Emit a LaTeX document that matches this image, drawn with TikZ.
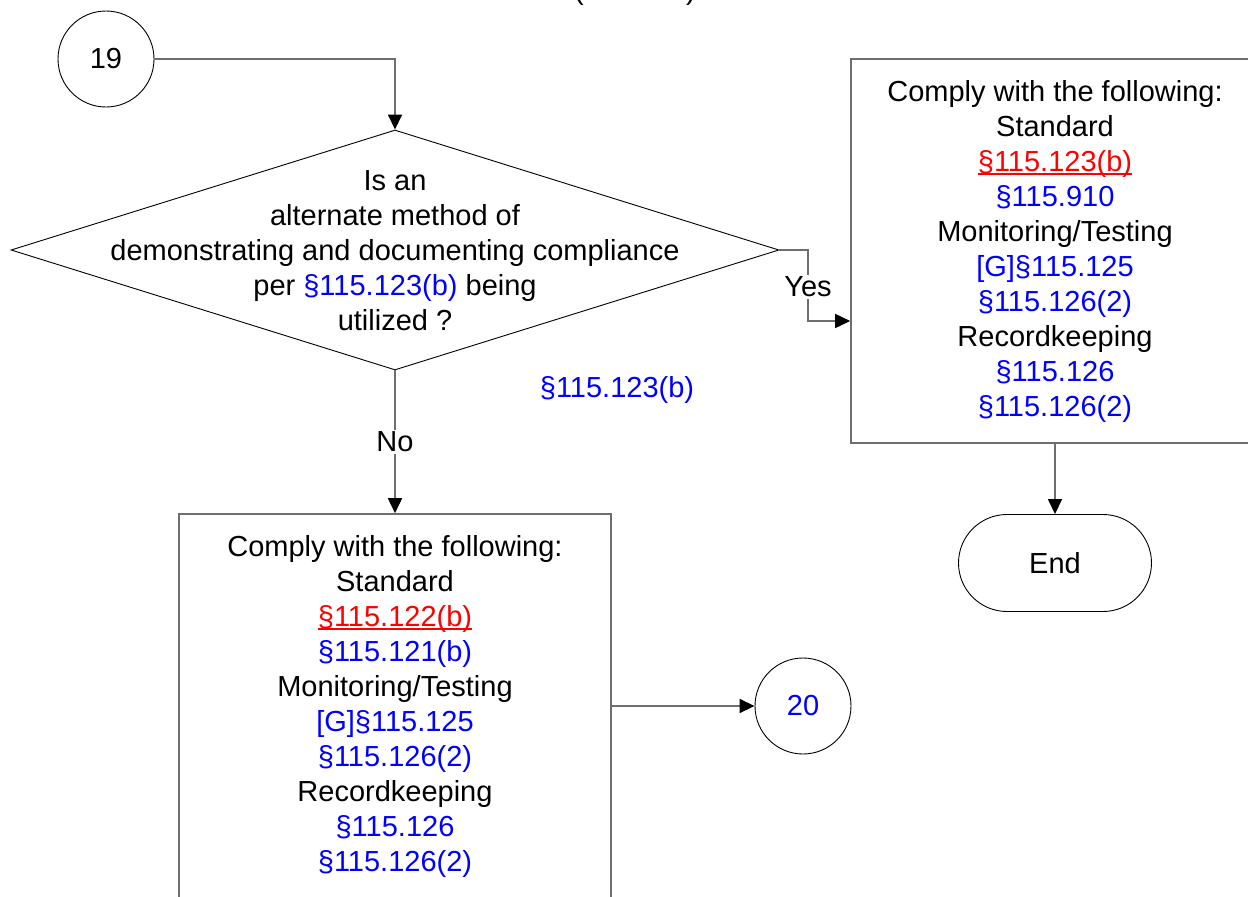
\documentclass[tikz,border=0pt]{standalone}
\usepackage{fontspec}
\setmainfont{Liberation Sans}
\usetikzlibrary{arrows.meta,shapes.geometric,shapes.misc}
\newcommand\refb[1]{\textcolor{blue}{#1}}
\newcommand\refr[1]{{\color{red}\setbox0\hbox{#1}\rlap{\copy0}\rule[-4pt]{\wd0}{1.6pt}}}
\definecolor{conngray}{RGB}{110,110,110}
\tikzset{
  txt/.style={font=\fontsize{29}{35}\selectfont, align=center, inner sep=0pt},
  circ/.style={circle, draw=black, line width=0.9pt, minimum size=96pt, inner sep=0pt, font=\fontsize{29}{35}\selectfont},
  dia/.style={diamond, draw=black, line width=0.9pt, minimum width=768pt, minimum height=240pt, inner sep=0pt},
  box/.style={rectangle, draw=conngray, line width=1.6pt, minimum width=#1, minimum height=384pt, inner sep=0pt},
  term/.style={rounded rectangle, draw=black, line width=0.9pt, minimum width=193pt, minimum height=97pt, inner sep=0pt, font=\fontsize{29}{35}\selectfont},
  conn/.style={draw=conngray, line width=1.6pt, -{Triangle[length=15pt,width=14pt,color=black]}},
  lab/.style={fill=white, inner sep=2pt, font=\fontsize{29}{35}\selectfont}
}
\begin{document}
\begin{tikzpicture}[x=1pt,y=-1pt]
\useasboundingbox (0,0) rectangle (1248,897);
% cut-off title parentheses
\node[anchor=base, font=\fontsize{29}{35}\selectfont, inner sep=0pt] (tl) at (579,-1) {(};
\node[anchor=base, font=\fontsize{29}{35}\selectfont, inner sep=0pt] (tr) at (691,-1) {)};
% nodes
\node[circ] (c19) at (106,59) {19};
\node[dia] (q) at (395,250) {};
\node[txt] (qt) at (395,251) {Is an\\alternate method of\\demonstrating and documenting compliance\\per \refb{§115.123(b)} being\\utilized ?};
\node[box=408pt] (rb) at (1055,251) {};
\node[txt] (rbt) at (1055,251) {Comply with the following:\\Standard\\\refr{§115.123(b)}\\\refb{§115.910}\\Monitoring/Testing\\\refb{[G]§115.125}\\\refb{§115.126(2)}\\Recordkeeping\\\refb{§115.126}\\\refb{§115.126(2)}};
\node[term] (end) at (1055,563) {End};
\node[box=432pt] (lb) at (395,706) {};
\node[txt] (lbt) at (395,706) {Comply with the following:\\Standard\\\refr{§115.122(b)}\\\refb{§115.121(b)}\\Monitoring/Testing\\\refb{[G]§115.125}\\\refb{§115.126(2)}\\Recordkeeping\\\refb{§115.126}\\\refb{§115.126(2)}};
\node[circ, text=blue] (c20) at (803,706) {20};
\node[txt, text=blue] (ref) at (617,390) {§115.123(b)};
% connectors
\coordinate (yt) at (808,321);
\draw[conn] (c19.east) -| (q.north);
\draw[conn] (q.east) -| (yt) -- (yt -| rb.west);
\node[lab] (yes) at (808,287) {Yes};
\draw[conn] (q.south) -- (lb.north);
\node[lab] (no) at (395,442) {No};
\draw[conn] (rb.south) -- (end.north);
\draw[conn] (lb.east) -- (c20.west);
\end{tikzpicture}
\end{document}
